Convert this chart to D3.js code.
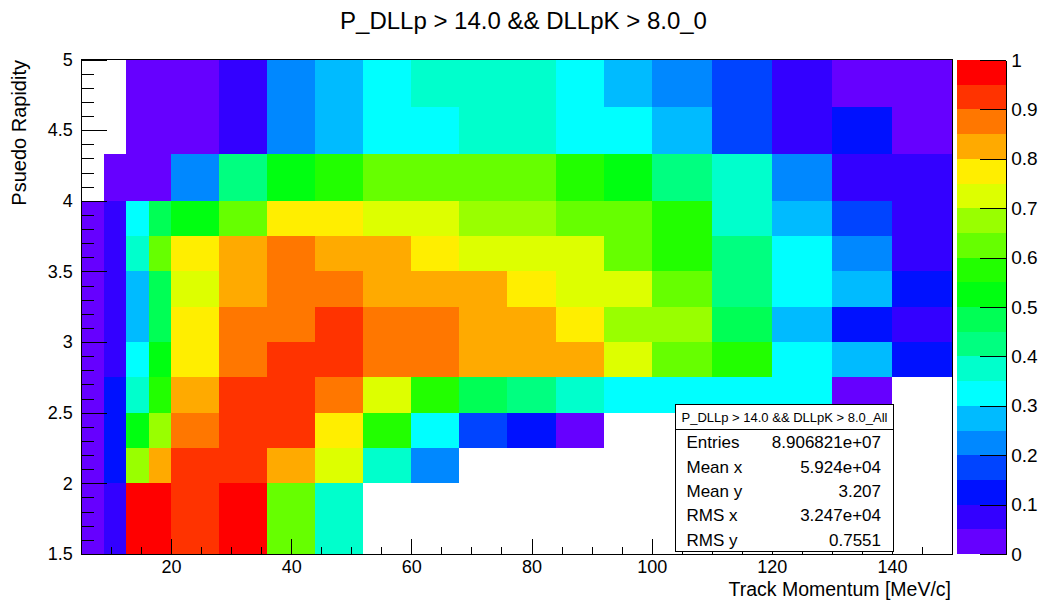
<!DOCTYPE html>
<html>
<head>
<meta charset="utf-8">
<script src="https://cdn.jsdelivr.net/npm/d3@7"></script>
<style>
body { margin: 0; background: white; }
text { font-family: "Liberation Sans", Arial, Helvetica, sans-serif; fill: black; }
</style>
</head>
<body>
<div id="chart"></div>
<script>
// Bin edges (momentum in x, pseudo rapidity in y, y listed top to bottom)
const xEdges = [5, 8.75, 12.5, 16.25, 20, 28, 36, 44, 52, 60, 68, 76, 84, 92, 100, 110, 120, 130, 140, 150];
const yEdges = [5, 4.667, 4.333, 4, 3.75, 3.5, 3.25, 3, 2.75, 2.5, 2.25, 2, 1.5];

// Bin contents, one array per y bin (top first), null = empty bin
const row0 = [null, null, .03, .03, .03, .08, .23, .28, .33, .38, .38, .38, .33, .28, .23, .18, .08, .03, .03];
const row1 = [null, null, .03, .03, .03, .08, .23, .28, .33, .33, .38, .38, .33, .33, .28, .18, .08, .13, .03];
const row2 = [null, .03, .03, .03, .23, .43, .53, .58, .63, .63, .63, .63, .58, .53, .43, .38, .23, .08, .08];
const row3 = [.03, .08, .33, .48, .53, .63, .78, .78, .73, .73, .68, .68, .63, .63, .58, .38, .28, .18, .08];
const row4 = [.03, .08, .38, .63, .78, .83, .88, .83, .83, .78, .73, .73, .73, .63, .58, .43, .33, .23, .08];
const row5 = [.03, .08, .28, .48, .73, .83, .88, .88, .83, .83, .83, .78, .73, .73, .63, .43, .33, .28, .13];
const row6 = [.03, .08, .28, .48, .78, .88, .88, .93, .88, .88, .83, .83, .78, .68, .68, .48, .28, .13, .08];
const row7 = [.03, .08, .33, .53, .78, .88, .93, .93, .88, .88, .83, .83, .83, .73, .63, .58, .33, .28, .13];
const row8 = [.03, .13, .38, .58, .83, .93, .93, .88, .73, .58, .48, .43, .38, .33, .33, .33, .33, .03, null];
const row9 = [.03, .13, .53, .68, .88, .93, .93, .78, .58, .33, .18, .13, .03, null, null, null, null, null, null];
const row10 = [.03, .13, .68, .83, .93, .93, .83, .73, .38, .23, null, null, null, null, null, null, null, null, null];
const row11 = [.03, .08, .98, .98, .93, .98, .63, .38, null, null, null, null, null, null, null, null, null, null, null];
const rows = [row0, row1, row2, row3, row4, row5, row6, row7, row8, row9, row10, row11];

// ROOT rainbow palette, 20 contours from 0 to 1
const palette = ["#6600ff", "#3300ff", "#0011ff", "#0044ff", "#0088ff", "#00bbff", "#00ffff", "#00ffcc",
    "#00ff80", "#00ff55", "#00ff11", "#22ff00", "#66ff00", "#99ff00", "#ddff00", "#ffee00",
    "#ffaa00", "#ff7700", "#ff3300", "#ff0000"];

// Tick labels
const xTicks = [20, 40, 60, 80, 100, 120, 140];
const yTicks = [1.5, 2, 2.5, 3, 3.5, 4, 4.5, 5];
const zTicks = [0, 0.1, 0.2, 0.3, 0.4, 0.5, 0.6, 0.7, 0.8, 0.9, 1];

// Stats box
const statsTitle = "P_DLLp > 14.0 && DLLpK > 8.0_All";
const statNames = ["Entries", "Mean x", "Mean y", "RMS x", "RMS y"];
const statValues = ["8.906821e+07", "5.924e+04", "3.207", "3.247e+04", "0.7551"];

const width = 1047, height = 603;
const frame = {left: 81, right: 952, top: 59.5, bottom: 554};
const pal = {left: 957, right: 1005.7};

const svg = d3.select("#chart")
    .append("svg")
    .attr("width", width)
    .attr("height", height);

const x = d3.scaleLinear().domain([5, 150]).range([frame.left, frame.right]);
const y = d3.scaleLinear().domain([1.5, 5]).range([frame.bottom, frame.top]);
const z = d3.scaleLinear().domain([0, 1]).range([frame.bottom, 60]);
const color = d3.scaleQuantize().domain([0, 1]).range(palette);

// flatten bins
const cells = [];
rows.forEach((row, i) => row.forEach((v, j) => {
    if (v != null) cells.push({i: i, j: j, v: v});
}));

svg.append("g").attr("class", "cells")
    .selectAll("rect")
    .data(cells)
    .join("rect")
    .attr("x", d => Math.round(x(xEdges[d.j])))
    .attr("y", d => Math.round(y(yEdges[d.i])))
    .attr("width", d => Math.round(x(xEdges[d.j + 1])) - Math.round(x(xEdges[d.j])))
    .attr("height", d => Math.round(y(yEdges[d.i + 1])) - Math.round(y(yEdges[d.i])))
    .attr("fill", d => color(d.v))
    .attr("shape-rendering", "crispEdges");

function styleAxis(g, size) {
    g.attr("font-size", size).attr("font-family", null);
    g.selectAll("line").attr("stroke", "black").attr("shape-rendering", "crispEdges");
    g.selectAll("path").attr("stroke", "black").attr("shape-rendering", "crispEdges");
}

// x axis, ticks point into the frame
svg.append("g")
    .attr("transform", "translate(0," + frame.bottom + ")")
    .call(d3.axisBottom(x).tickValues(d3.range(10, 150, 5)).tickSize(-7.4).tickFormat(() => ""))
    .call(g => g.select(".domain").remove())
    .call(g => styleAxis(g, 18));
svg.append("g")
    .attr("transform", "translate(0," + frame.bottom + ")")
    .call(d3.axisBottom(x).tickValues(xTicks).tickSize(-14.8).tickSizeOuter(0).tickPadding(6.5))
    .call(g => styleAxis(g, 18));

// y axis
svg.append("g")
    .attr("transform", "translate(" + frame.left + ",0)")
    .call(d3.axisLeft(y).tickValues(d3.range(16, 50).map(d => d / 10)).tickSize(-13).tickFormat(() => ""))
    .call(g => g.select(".domain").remove())
    .call(g => styleAxis(g, 18));
svg.append("g")
    .attr("transform", "translate(" + frame.left + ",0)")
    .call(d3.axisLeft(y).tickValues(yTicks).tickSize(-26).tickSizeOuter(0).tickPadding(8.3).tickFormat(d3.format("~g")))
    .call(g => styleAxis(g, 18));

// frame
svg.append("rect")
    .attr("x", frame.left)
    .attr("y", frame.top)
    .attr("width", frame.right - frame.left)
    .attr("height", frame.bottom - frame.top)
    .attr("fill", "none")
    .attr("stroke", "black")
    .attr("shape-rendering", "crispEdges");

// palette
svg.append("g").attr("class", "palette")
    .selectAll("rect")
    .data(palette)
    .join("rect")
    .attr("x", pal.left)
    .attr("width", pal.right - pal.left)
    .attr("y", (d, i) => Math.round(z((i + 1) / palette.length)))
    .attr("height", (d, i) => Math.round(z(i / palette.length)) - Math.round(z((i + 1) / palette.length)))
    .attr("fill", d => d)
    .attr("shape-rendering", "crispEdges");

svg.append("g")
    .attr("transform", "translate(" + pal.right + ",0)")
    .call(d3.axisRight(z).tickValues(zTicks).tickSize(-26).tickSizeOuter(0).tickPadding(5.5).tickFormat(d3.format("~g")))
    .call(g => styleAxis(g, 19));

// titles
svg.append("text")
    .attr("x", width / 2)
    .attr("y", 29)
    .attr("text-anchor", "middle")
    .attr("font-size", 24)
    .text("P_DLLp > 14.0 && DLLpK > 8.0_0");

svg.append("text")
    .attr("x", frame.right - 1)
    .attr("y", 596)
    .attr("text-anchor", "end")
    .attr("font-size", 19.5)
    .text("Track Momentum [MeV/c]");

svg.append("text")
    .attr("transform", "translate(26," + (frame.top + 0.5) + ") rotate(-90)")
    .attr("text-anchor", "end")
    .attr("font-size", 20)
    .text("Psuedo Rapidity");

// stats box
const box = {x: 675.5, y: 404.5, w: 218, h: 147};
const stats = svg.append("g");
stats.append("rect")
    .attr("x", box.x).attr("y", box.y)
    .attr("width", box.w).attr("height", box.h)
    .attr("fill", "white").attr("stroke", "black")
    .attr("shape-rendering", "crispEdges");
stats.append("line")
    .attr("x1", box.x).attr("x2", box.x + box.w)
    .attr("y1", box.y + 25).attr("y2", box.y + 25)
    .attr("stroke", "black")
    .attr("shape-rendering", "crispEdges");
stats.append("text")
    .attr("x", box.x + box.w / 2)
    .attr("y", box.y + 12.5)
    .attr("dy", "0.35em")
    .attr("text-anchor", "middle")
    .attr("font-size", 13)
    .text(statsTitle);
stats.selectAll(".name")
    .data(statNames)
    .join("text")
    .attr("class", "name")
    .attr("x", box.x + 11)
    .attr("y", (d, i) => box.y + 38 + i * 24.3)
    .attr("dy", "0.35em")
    .attr("font-size", 17)
    .text(d => d);
stats.selectAll(".value")
    .data(statValues)
    .join("text")
    .attr("class", "value")
    .attr("x", box.x + box.w - 12.5)
    .attr("y", (d, i) => box.y + 38 + i * 24.3)
    .attr("dy", "0.35em")
    .attr("text-anchor", "end")
    .attr("font-size", 17)
    .text(d => d);
</script>
</body>
</html>
